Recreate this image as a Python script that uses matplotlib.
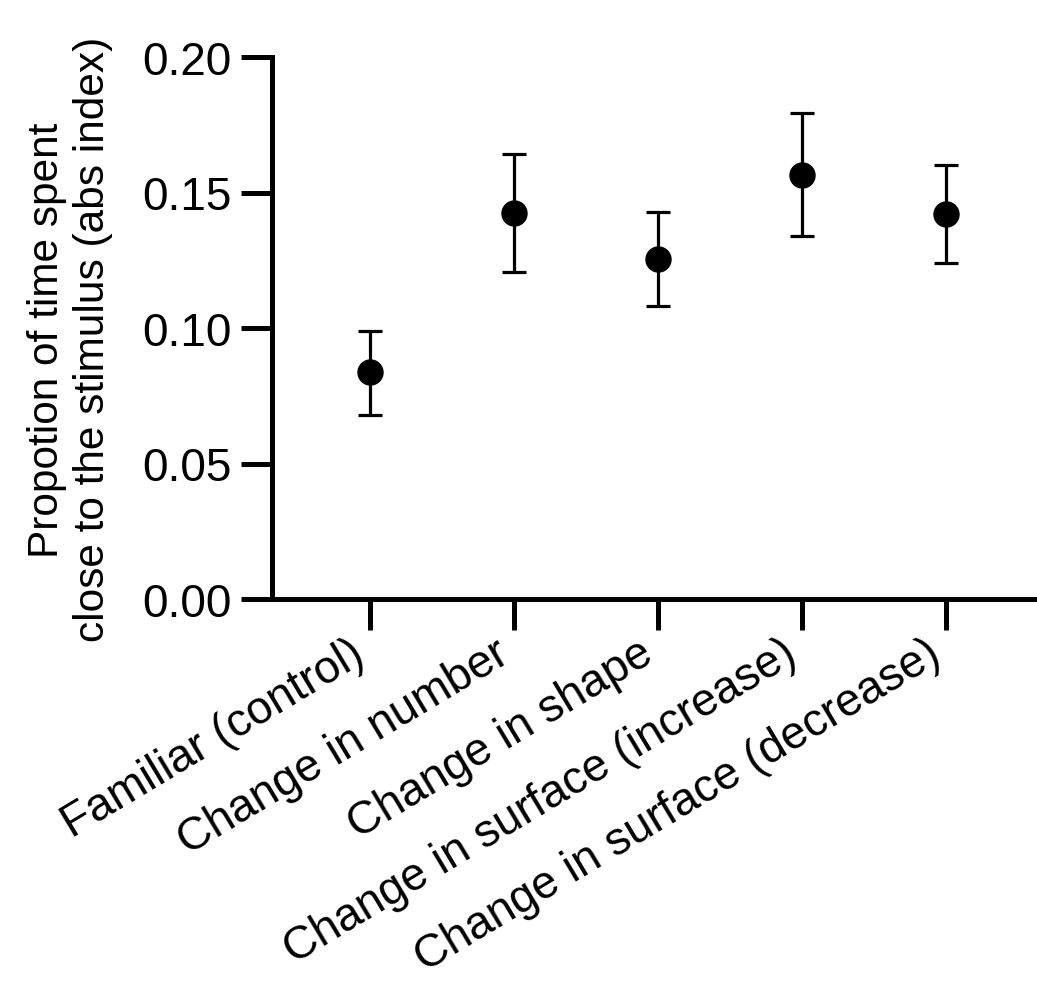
import matplotlib
matplotlib.use("Agg")
import matplotlib.pyplot as plt

categories = ["Familiar (control)", "Change in number", "Change in shape",
              "Change in surface (increase)", "Change in surface (decrease)"]
means = [0.0838, 0.1424, 0.1255, 0.1565, 0.1421]
upper = [0.0989, 0.1642, 0.1428, 0.1793, 0.1601]
lower = [0.0679, 0.1207, 0.1081, 0.1339, 0.1240]
yticks = [0.00, 0.05, 0.10, 0.15, 0.20]
ytick_labels = ["0.00", "0.05", "0.10", "0.15", "0.20"]
ylabel = "Propotion of time spent\nclose to the stimulus (abs index)"

plt.rcParams["font.family"] = ["Liberation Sans", "DejaVu Sans"]

fig = plt.figure(figsize=(10.37, 9.87), dpi=100)
ax = fig.add_axes([272/1037, 1-600/987, (1035-272)/1037, (600-58)/987])

x = list(range(len(categories)))
yerr = [[m - l for m, l in zip(means, lower)], [u - m for m, u in zip(means, upper)]]
ax.errorbar(x, means, yerr=yerr, fmt="o", color="black", ms=18,
            elinewidth=2.3, capsize=8.5, capthick=2.3, zorder=3)

ax.set_xlim(-0.68, 4.62)
ax.set_ylim(0, 0.20)
ax.set_yticks(yticks)
ax.set_yticklabels(ytick_labels, fontsize=33)
ax.set_xticks(x)
ax.set_xticklabels([])
for xi, cat in zip(x, categories):
    ax.annotate(cat, xy=(xi, 0), xycoords=ax.get_xaxis_transform(),
                xytext=(-14.5, -23), textcoords="offset points",
                rotation=31, ha="right", va="top", rotation_mode="anchor",
                fontsize=33, annotation_clip=False)
ax.tick_params(axis="both", direction="out", length=22, width=3.6, color="black")
ax.tick_params(axis="y", pad=7)
for s in ["top", "right"]:
    ax.spines[s].set_visible(False)
for s in ["left", "bottom"]:
    ax.spines[s].set_linewidth(3.6)

ax.set_ylabel(ylabel, fontsize=30.5, linespacing=1.2)
ax.yaxis.set_label_coords(-0.208, 0.48)

fig.savefig("out.png", dpi=100, facecolor="white")
